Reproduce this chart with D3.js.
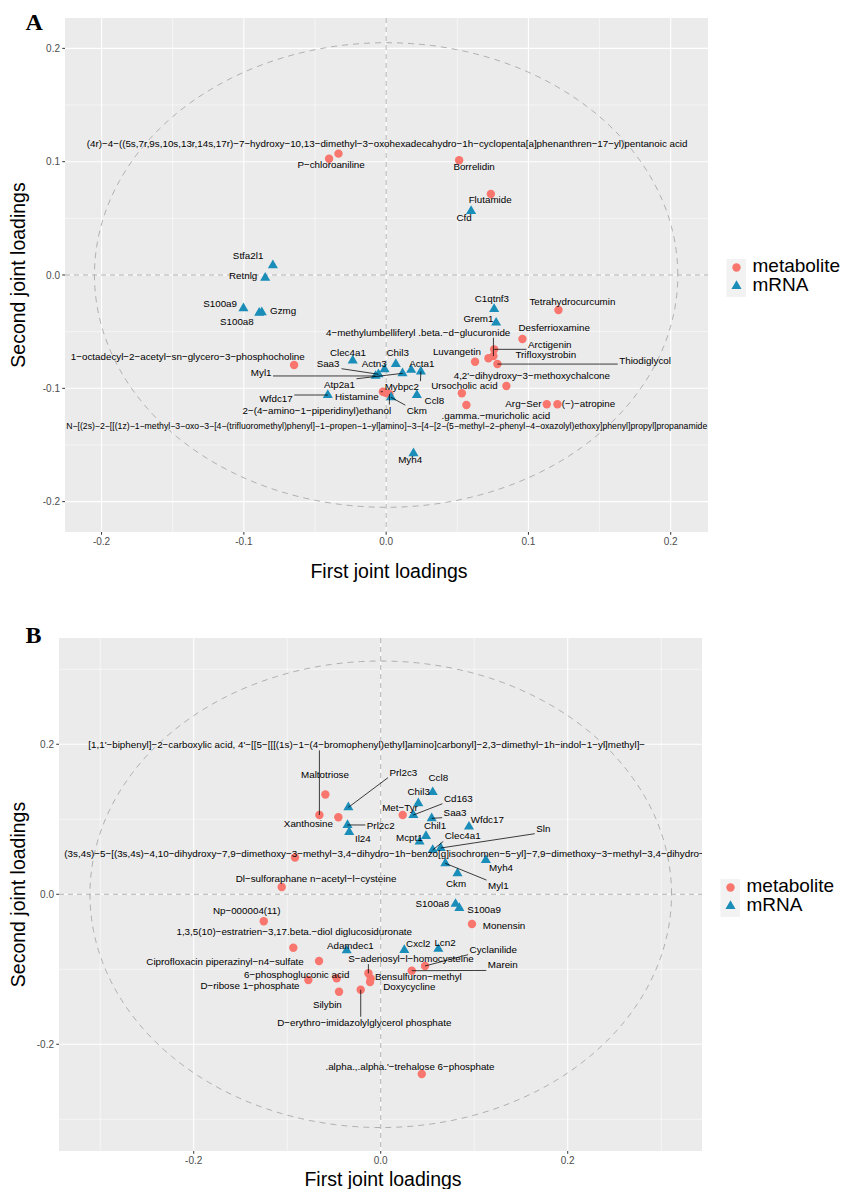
<!DOCTYPE html>
<html><head><meta charset="utf-8">
<script src="https://cdn.jsdelivr.net/npm/d3@7/dist/d3.min.js"></script>
<style>body{margin:0;background:#fff}</style>
</head><body>
<svg id="chart" width="841" height="1189" xmlns="http://www.w3.org/2000/svg"></svg>
<script>
// ---------------- DATA: panel A ----------------
const aMetNames = [
"(4r)−4−((5s,7r,9s,10s,13r,14s,17r)−7−hydroxy−10,13−dimethyl−3−oxohexadecahydro−1h−cyclopenta[a]phenanthren−17−yl)pentanoic acid",
"P−chloroaniline","Borrelidin","Flutamide","Tetrahydrocurcumin","Desferrioxamine",
"4−methylumbelliferyl .beta.−d−glucuronide","Arctigenin","Luvangetin","Trifloxystrobin","Thiodiglycol",
"4,2'−dihydroxy−3−methoxychalcone","Ursocholic acid",".gamma.−muricholic acid","Arg−Ser","(−)−atropine",
"1−octadecyl−2−acetyl−sn−glycero−3−phosphocholine","Histamine","2−(4−amino−1−piperidinyl)ethanol",
"N−[(2s)−2−[[(1z)−1−methyl−3−oxo−3−[4−(trifluoromethyl)phenyl]−1−propen−1−yl]amino]−3−[4−[2−(5−methyl−2−phenyl−4−oxazolyl)ethoxy]phenyl]propyl]propanamide"
];
const aMetX = [-0.0335,-0.0401,0.0513,0.0736,0.1211,0.0958,0.0754,0.0759,0.0625,0.0719,0.0782,0.0845,0.0532,0.0564,0.1129,0.1204,-0.0647,-0.0023,0.0023,-0.0004];
const aMetY = [0.1071,0.1026,0.1012,0.0715,-0.0309,-0.0565,-0.0715,-0.0656,-0.0765,-0.0735,-0.0786,-0.0980,-0.1044,-0.1147,-0.1141,-0.1141,-0.0794,-0.1030,-0.1050,-0.1040];
const aMetLabelX = [0.0007,-0.0387,0.0618,0.0731,0.1309,0.1181,0.0225,0.1150,0.0497,0.1122,0.1820,0.1024,0.0550,0.0771,0.0965,0.1422,-0.1394,-0.0206,-0.0487,0.0004];
const aMetLabelY = [0.1156,0.0971,0.0956,0.0662,-0.0236,-0.0465,-0.0506,-0.0612,-0.0677,-0.0706,-0.0759,-0.0891,-0.0980,-0.1244,-0.1139,-0.1139,-0.0721,-0.1074,-0.1192,-0.1330];

const aRnaNames = ["Stfa2l1","Retnlg","Cfd","S100a9","Gzmg","S100a8","C1qtnf3","Grem1","Clec4a1","Saa3","Myl1","Actn3","Chil3","Atp2a1","Acta1","Mybpc2","Wfdc17","Ckm","Ccl8","Myh4"];
const aRnaX = [-0.0796,-0.0850,0.0597,-0.1003,-0.0874,-0.0892,0.0759,0.0773,-0.0235,-0.0054,-0.0074,-0.0011,0.0068,0.0115,0.0176,0.0244,-0.0410,0.0035,0.0216,0.0192];
const aRnaY = [0.0086,-0.0024,0.0565,-0.0294,-0.0329,-0.0333,-0.0300,-0.0421,-0.0756,-0.0876,-0.0891,-0.0832,-0.0786,-0.0868,-0.0838,-0.0852,-0.1059,-0.1080,-0.1059,-0.1574];
const aRnaLabelX = [-0.0970,-0.1005,0.0548,-0.1167,-0.0724,-0.1049,0.0743,0.0649,-0.0269,-0.0408,-0.0878,-0.0084,0.0081,-0.0328,0.0251,0.0110,-0.0773,0.0216,0.0339,0.0169];
const aRnaLabelY = [0.0168,-0.0009,0.0503,-0.0250,-0.0315,-0.0412,-0.0206,-0.0382,-0.0686,-0.0779,-0.0859,-0.0779,-0.0688,-0.0965,-0.0779,-0.0986,-0.1088,-0.1198,-0.1109,-0.1633];

const aLeaders = ["Myl1","Saa3","Atp2a1","Mybpc2","Wfdc17","Histamine","2−(4−amino−1−piperidinyl)ethanol","Ckm",
"4−methylumbelliferyl .beta.−d−glucuronide","Arctigenin","Thiodiglycol"];

const aTicks = [-0.2,-0.1,0.0,0.1,0.2];
const aMinor = [-0.15,-0.05,0.05,0.15];
const aRadius = 0.205;

// ---------------- DATA: panel B ----------------
const bMetNames = [
"[1,1'−biphenyl]−2−carboxylic acid, 4'−[[5−[[[(1s)−1−(4−bromophenyl)ethyl]amino]carbonyl]−2,3−dimethyl−1h−indol−1−yl]methyl]−",
"Maltotriose","Xanthosine","Met−Tyr",
"(3s,4s)−5−[(3s,4s)−4,10−dihydroxy−7,9−dimethoxy−3−methyl−3,4−dihydro−1h−benzo[g]isochromen−5−yl]−7,9−dimethoxy−3−methyl−3,4−dihydro−",
"Dl−sulforaphane n−acetyl−l−cysteine","Np−000004(11)","1,3,5(10)−estratrien−3,17.beta.−diol diglucosiduronate",
"Ciprofloxacin piperazinyl−n4−sulfate","6−phosphogluconic acid","D−ribose 1−phosphate","Silybin",
"D−erythro−imidazolylglycerol phosphate","S−adenosyl−l−homocysteine","Bensulfuron−methyl","Doxycycline",
"Marein","Cyclanilide","Monensin",".alpha.,.alpha.'−trehalose 6−phosphate"
];
const bMetX = [-0.0656,-0.0592,-0.0453,0.0235,-0.0917,-0.1059,-0.1251,-0.0935,-0.0660,-0.0471,-0.0774,-0.0446,-0.0214,-0.0132,-0.0107,-0.0114,0.0332,0.0474,0.0976,0.0439];
const bMetY = [0.1057,0.1331,0.1027,0.1057,0.0491,0.0097,-0.0360,-0.0712,-0.0889,-0.1120,-0.1143,-0.1299,-0.1272,-0.1053,-0.1123,-0.1170,-0.1019,-0.0956,-0.0396,-0.2396];
const bMetLabelX = [-0.0150,-0.0596,-0.0774,0.0206,0.0040,-0.0692,-0.1433,-0.0925,-0.1665,-0.0898,-0.1398,-0.0571,-0.0176,0.0324,0.0402,0.0306,0.1305,0.1204,0.1319,0.0313];
const bMetLabelY = [0.1991,0.1591,0.0947,0.1160,0.0537,0.0204,-0.0219,-0.0499,-0.0899,-0.1067,-0.1223,-0.1476,-0.1707,-0.0859,-0.1099,-0.1232,-0.0943,-0.0733,-0.0423,-0.2299];

const bRnaNames = ["Prl2c3","Prl2c2","Il24","Chil3","Ccl8","Cd163","Saa3","Chil1","Mcpt1","Wfdc17","Clec4a1","Sln","Myl1","Myh4","Ckm","S100a8","S100a9","Cxcl2","Lcn2","Adamdec1"];
const bRnaX = [-0.0346,-0.0355,-0.0337,0.0402,0.0556,0.0349,0.0545,0.0484,0.0415,0.0944,0.0556,0.0642,0.0691,0.1124,0.0821,0.0800,0.0841,0.0252,0.0616,-0.0364];
const bRnaY = [0.1159,0.0924,0.0828,0.1213,0.1361,0.1057,0.1013,0.0777,0.0701,0.0901,0.0591,0.0617,0.0413,0.0457,0.0280,-0.0129,-0.0183,-0.0743,-0.0729,-0.0749];
const bRnaLabelX = [0.0242,0.0000,-0.0191,0.0406,0.0616,0.0830,0.0795,0.0581,0.0306,0.1140,0.0877,0.1739,0.1258,0.1287,0.0805,0.0552,0.1105,0.0402,0.0688,-0.0325];
const bRnaLabelY = [0.1627,0.0911,0.0747,0.1368,0.1555,0.1280,0.1093,0.0911,0.0760,0.0991,0.0777,0.0880,0.0115,0.0360,0.0147,-0.0120,-0.0200,-0.0653,-0.0640,-0.0689];

const bLeaders = [bMetNames[0],"Prl2c3","Prl2c2","Cd163","Saa3","Clec4a1","Sln","Myl1",
"S−adenosyl−l−homocysteine","Marein","Cyclanilide","D−erythro−imidazolylglycerol phosphate"];

const bTicks = [-0.2,0.0,0.2];
const bMinor = [-0.3,-0.1,0.1,0.3];
const bRadius = 0.311;

const legendLabels = ["metabolite","mRNA"];
const xTitle = "First joint loadings";
const yTitle = "Second joint loadings";

// ---------------- DRAWING ----------------
const svg = d3.select("#chart");
const FONT = "'Liberation Sans', Arial, Helvetica, sans-serif";
const MET_COL = "#F8766D", RNA_COL = "#1A8DB8";
const LABEL_SIZE = 9.8;
const triangle = d3.symbol().type(d3.symbolTriangle).size(44);
const fmt = v => v.toFixed(1);

function drawPanel(cfg) {
  const x = d3.scaleLinear().domain(cfg.xd).range([cfg.left, cfg.right]);
  const y = d3.scaleLinear().domain(cfg.yd).range([cfg.bottom, cfg.top]);
  const g = svg.append("g");
  const w = cfg.right - cfg.left, h = cfg.bottom - cfg.top;

  g.append("clipPath").attr("id", "clip" + cfg.id)
    .append("rect").attr("x", cfg.left).attr("y", cfg.top).attr("width", w).attr("height", h);

  g.append("rect").attr("x", cfg.left).attr("y", cfg.top).attr("width", w).attr("height", h).attr("fill", "#EBEBEB");

  // minor grid
  g.selectAll(".mx").data(cfg.minor).join("line")
    .attr("x1", d => x(d)).attr("x2", d => x(d)).attr("y1", cfg.top).attr("y2", cfg.bottom)
    .attr("stroke", "#fff").attr("stroke-width", 0.55);
  g.selectAll(".my").data(cfg.minor).join("line")
    .attr("y1", d => y(d)).attr("y2", d => y(d)).attr("x1", cfg.left).attr("x2", cfg.right)
    .attr("stroke", "#fff").attr("stroke-width", 0.55);
  // major grid
  g.selectAll(".gx").data(cfg.ticks).join("line")
    .attr("x1", d => x(d)).attr("x2", d => x(d)).attr("y1", cfg.top).attr("y2", cfg.bottom)
    .attr("stroke", "#fff").attr("stroke-width", 1.1);
  g.selectAll(".gy").data(cfg.ticks).join("line")
    .attr("y1", d => y(d)).attr("y2", d => y(d)).attr("x1", cfg.left).attr("x2", cfg.right)
    .attr("stroke", "#fff").attr("stroke-width", 1.1);

  const inner = g.append("g").attr("clip-path", "url(#clip" + cfg.id + ")");
  // dashed zero lines
  inner.append("line").attr("x1", x(0)).attr("x2", x(0)).attr("y1", cfg.top).attr("y2", cfg.bottom)
    .attr("stroke", "#A8A8A8").attr("stroke-width", 0.9).attr("stroke-dasharray", "5,4");
  inner.append("line").attr("y1", y(0)).attr("y2", y(0)).attr("x1", cfg.left).attr("x2", cfg.right)
    .attr("stroke", "#A8A8A8").attr("stroke-width", 0.9).attr("stroke-dasharray", "5,4");
  // circle
  const angles = d3.range(0, 360, 1).map(a => a * Math.PI / 180);
  inner.append("path")
    .attr("d", d3.line().x(a => x(cfg.radius * Math.cos(a))).y(a => y(cfg.radius * Math.sin(a))).curve(d3.curveLinearClosed)(angles))
    .attr("fill", "none").attr("stroke", "#A8A8A8").attr("stroke-width", 0.9).attr("stroke-dasharray", "6,5");

  // points
  const met = cfg.metNames.map((n, i) => ({n, x: cfg.metX[i], y: cfg.metY[i], lx: cfg.metLX[i], ly: cfg.metLY[i]}));
  const rna = cfg.rnaNames.map((n, i) => ({n, x: cfg.rnaX[i], y: cfg.rnaY[i], lx: cfg.rnaLX[i], ly: cfg.rnaLY[i]}));
  inner.selectAll(".pm").data(met).join("circle")
    .attr("cx", d => x(d.x)).attr("cy", d => y(d.y)).attr("r", 4.2).attr("fill", MET_COL);
  inner.selectAll(".pr").data(rna).join("path")
    .attr("d", triangle).attr("transform", d => `translate(${x(d.x)},${y(d.y)})`).attr("fill", RNA_COL);

  const segG = inner.append("g");
  const labG = inner.append("g");
  const all = met.concat(rna);
  labG.selectAll("text").data(all).join("text")
    .attr("x", d => x(d.lx)).attr("y", d => y(d.ly)).attr("dy", "0.35em")
    .attr("text-anchor", "middle").attr("font-family", FONT).attr("font-size", LABEL_SIZE)
    .attr("fill", "#000").text(d => d.n)
    .each(function(d) {
      // a label wider than the whole panel is shrunk to fit it
      let b = this.getBBox();
      if (b.width > w && !cfg.clipWide) {
        d3.select(this).attr("font-size", LABEL_SIZE * (w - 1) / b.width);
        b = this.getBBox();
      }
      if (!cfg.leaders.includes(d.n)) return;
      const px = x(d.x), py = y(d.y);
      const pad = 1.5;
      const cx = Math.max(b.x - pad, Math.min(px, b.x + b.width + pad));
      const cy = Math.max(b.y, Math.min(py, b.y + b.height));
      segG.append("line").attr("x1", px).attr("y1", py).attr("x2", cx).attr("y2", cy)
        .attr("stroke", "#000").attr("stroke-width", 0.75);
    });

  // axes ticks
  g.selectAll(".ty").data(cfg.ticks).join("line")
    .attr("x1", cfg.left - 2.75).attr("x2", cfg.left).attr("y1", d => y(d)).attr("y2", d => y(d))
    .attr("stroke", "#333").attr("stroke-width", 1);
  g.selectAll(".tx").data(cfg.ticks).join("line")
    .attr("y1", cfg.bottom).attr("y2", cfg.bottom + 2.75).attr("x1", d => x(d)).attr("x2", d => x(d))
    .attr("stroke", "#333").attr("stroke-width", 1);
  g.selectAll(".ly").data(cfg.ticks).join("text")
    .attr("x", cfg.left - 5).attr("y", d => y(d)).attr("dy", "0.35em").attr("text-anchor", "end")
    .attr("font-family", FONT).attr("font-size", 10).attr("fill", "#4D4D4D").text(fmt);
  g.selectAll(".lx").data(cfg.ticks).join("text")
    .attr("x", d => x(d)).attr("y", cfg.bottom + 13.3).attr("text-anchor", "middle")
    .attr("font-family", FONT).attr("font-size", 10).attr("fill", "#4D4D4D").text(fmt);

  // titles
  g.append("text").attr("x", (cfg.left + cfg.right) / 2 + 2.5).attr("y", cfg.xTitleY)
    .attr("text-anchor", "middle").attr("font-family", FONT).attr("font-size", 19.5).attr("fill", "#000").text(xTitle);
  g.append("text").attr("transform", `translate(24.5,${(cfg.top + cfg.bottom) / 2}) rotate(-90)`)
    .attr("text-anchor", "middle").attr("font-family", FONT).attr("font-size", 19.5).attr("fill", "#000").text(yTitle);

  // tag
  g.append("text").attr("x", 25.5).attr("y", cfg.tagY).attr("font-family", "'Liberation Serif', 'Times New Roman', serif")
    .attr("font-weight", "bold").attr("font-size", 24).attr("fill", "#000").text(cfg.tag);

  // legend
  const lx = cfg.right + 18.5, ly = cfg.legendTop;
  const lg = g.append("g");
  lg.append("rect").attr("x", lx).attr("y", ly).attr("width", 19.5).attr("height", 38).attr("fill", "#F2F2F2");
  lg.append("circle").attr("cx", lx + 10).attr("cy", ly + 8.5).attr("r", 4.2).attr("fill", MET_COL);
  lg.append("path").attr("d", triangle).attr("transform", `translate(${lx + 10},${ly + 27})`).attr("fill", RNA_COL);
  lg.selectAll("text").data(legendLabels).join("text")
    .attr("x", lx + 26).attr("y", (d, i) => ly + 13 + i * 18.8)
    .attr("font-family", FONT).attr("font-size", 19).attr("fill", "#000").text(d => d);
}

drawPanel({
  id: "A", tag: "A", left: 65, right: 708, top: 18, bottom: 532,
  xd: [-0.2257, 0.2262], yd: [-0.2268, 0.2268], ticks: aTicks, minor: aMinor, radius: aRadius,
  metNames: aMetNames, metX: aMetX, metY: aMetY, metLX: aMetLabelX, metLY: aMetLabelY,
  rnaNames: aRnaNames, rnaX: aRnaX, rnaY: aRnaY, rnaLX: aRnaLabelX, rnaLY: aRnaLabelY,
  leaders: aLeaders, xTitleY: 578, tagY: 29.5, legendTop: 259, clipWide: false
});
drawPanel({
  id: "B", tag: "B", left: 59, right: 702, top: 638, bottom: 1151,
  xd: [-0.3441, 0.3436], yd: [-0.3423, 0.3417], ticks: bTicks, minor: bMinor, radius: bRadius,
  metNames: bMetNames, metX: bMetX, metY: bMetY, metLX: bMetLabelX, metLY: bMetLabelY,
  rnaNames: bRnaNames, rnaX: bRnaX, rnaY: bRnaY, rnaLX: bRnaLabelX, rnaLY: bRnaLabelY,
  leaders: bLeaders, xTitleY: 1186, tagY: 642.5, legendTop: 879, clipWide: true
});
</script>
</body></html>
